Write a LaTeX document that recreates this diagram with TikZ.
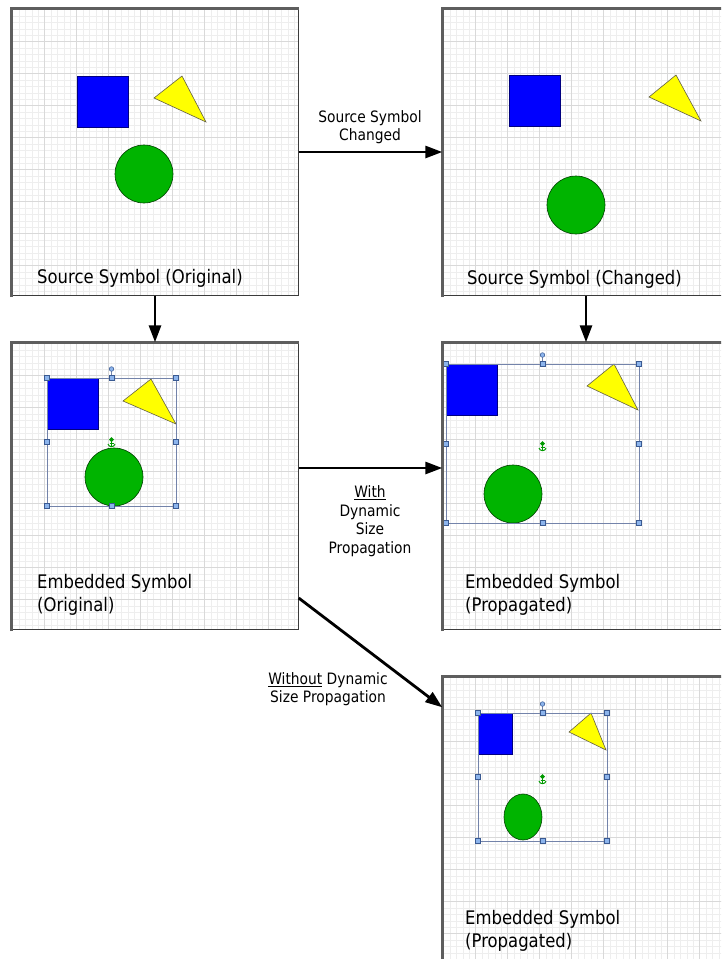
\documentclass[tikz,border=0pt]{standalone}
\usepackage{fontspec}
\setmainfont{DejaVu Sans}[FakeStretch=0.88]
\usetikzlibrary{arrows.meta,calc}
\definecolor{gminorc}{HTML}{EEEEEE}
\definecolor{gmajorc}{HTML}{D9D9D9}
\definecolor{frameL}{HTML}{5E5E5E}
\definecolor{frameR}{HTML}{3C3C3C}
\definecolor{shblue}{HTML}{0000FF}
\definecolor{shyellow}{HTML}{FFFF00}
\definecolor{shgreen}{HTML}{00B400}
\definecolor{selc}{HTML}{7383AA}
\definecolor{hndfill}{HTML}{8CB4EC}
\definecolor{hnddraw}{HTML}{3A5A92}
\definecolor{anch}{HTML}{009A00}
\tikzset{
  panel/.style={rectangle, draw=none, minimum width=287pt, minimum height=287pt, inner sep=0pt},
  gminor/.style={draw=gminorc, line width=1pt},
  gmajor/.style={draw=gmajorc, line width=0.8pt},
  frthick/.style={draw=frameL, line width=3pt},
  frthin/.style={draw=frameR, line width=1.5pt},
  arr/.style={line width=2.8pt, -{Triangle[length=17pt,width=12pt]}},
  sqstyle/.style={fill=shblue, draw=blue!50!black, line width=0.5pt},
  tristyle/.style={fill=shyellow, draw=black!70!yellow, line width=0.6pt},
  circstyle/.style={fill=shgreen, draw=green!25!black, line width=0.6pt},
  selbox/.style={draw=selc, line width=0.8pt},
  hnd/.style={fill=hndfill, draw=hnddraw, line width=0.5pt},
  plabel/.style={anchor=base west, inner sep=0pt, align=left, font=\fontsize{18.7}{23.5}\selectfont},
  elabel/.style={inner sep=0pt, align=center, font=\fontsize{15.7}{18.5}\selectfont},
}
\newcommand\gridin[1]{%
  \begin{scope}
    \clip (#1.north west) rectangle (#1.south east);
    \fill[white] (#1.north west) rectangle (#1.south east);
    \begin{scope}[shift={(#1.north west)}]
      \foreach \k in {0,...,46}{
        \draw[gminor] ({1.5+6.4*\k},0) -- ++(0,300);
        \draw[gminor] (0,{1.5+6.4*\k}) -- ++(300,0);
      }
      \foreach \k in {0,...,9}{
        \draw[gmajor] ({1.5+32*\k},0) -- ++(0,300);
        \draw[gmajor] (0,{1.5+32*\k}) -- ++(300,0);
      }
    \end{scope}
  \end{scope}
}
\newcommand\frameof[1]{%
  \draw[frthin] (#1.north east) -- (#1.south east) -- (#1.south west);
  \draw[frthick] ([yshift=-1.5pt]#1.south west) -- (#1.north west) -- (#1.north east);
}
% selection box: x0 y0 x1 y1
\newcommand\selection[4]{%
  \pgfmathsetmacro\mx{(#1+#3)/2}
  \pgfmathsetmacro\my{(#2+#4)/2}
  \draw[selbox] (#1,#2) rectangle (#3,#4);
  \draw[selc, line width=0.6pt] (\mx,#2) -- (\mx,{#2-9});
  \draw[hnd] (\mx,{#2-9}) circle (2.3pt);
  \foreach \hx/\hy in {#1/#2, \mx/#2, #3/#2, #1/\my, #3/\my, #1/#4, \mx/#4, #3/#4}{
    \draw[hnd] ({\hx-2.5},{\hy-2.5}) rectangle ({\hx+2.5},{\hy+2.5});
  }
}
\newcommand\anchoricon[2]{%
  \draw[anch, line width=1pt] (#1,{#2-3}) -- (#1,{#2+4});
  \draw[anch, line width=1pt] ({#1-3.5},{#2+1}) .. controls ({#1-3},{#2+4.5}) and ({#1+3},{#2+4.5}) .. ({#1+3.5},{#2+1});
  \draw[anch, line width=0.8pt] ({#1-2},{#2}) -- ({#1+2},{#2});
  \fill[anch] (#1,{#2-6}) -- ({#1+2.5},{#2-3.5}) -- (#1,{#2-1}) -- ({#1-2.5},{#2-3.5}) -- cycle;
}
\begin{document}
\begin{tikzpicture}[x=1pt, y=-1pt]
\useasboundingbox (0,0) rectangle (721,959);
\clip (0,0) rectangle (721,959);
\fill[white] (0,0) rectangle (721,959);

% panels
\node[panel] (p1) at (155,152) {};
\node[panel] (p2) at (586,152) {};
\node[panel] (p3) at (155,486) {};
\node[panel] (p4) at (586,486) {};
\node[panel] (p5) at (586,820) {};

\gridin{p1}\gridin{p2}\gridin{p3}\gridin{p4}\gridin{p5}

% panel 1: source original
\draw[sqstyle] (77,76) rectangle (128,127);
\draw[tristyle] (154,98) -- (182,76) -- (206,122) -- cycle;
\draw[circstyle] (144,174) circle (29);

% panel 2: source changed
\draw[sqstyle] (509,75) rectangle (560,126);
\draw[tristyle] (649,97) -- (676,75) -- (701,121) -- cycle;
\draw[circstyle] (576,205) circle (29);

% panel 3: embedded original
\draw[sqstyle] (47,378) rectangle (98,429);
\draw[tristyle] (123,401) -- (151,379) -- (176,424) -- cycle;
\draw[circstyle] (114,477) circle (29);
\selection{47}{378}{176}{506}
\anchoricon{111.5}{443}

% panel 4: embedded propagated (with)
\draw[sqstyle] (446,364) rectangle (497,415);
\draw[tristyle] (587,386) -- (614,364) -- (638,410) -- cycle;
\draw[circstyle] (513,494) circle (29);
\selection{446}{364}{639}{523}
\anchoricon{542.5}{447}

% panel 5: embedded propagated (without)
\draw[sqstyle] (478,713) rectangle (512,754);
\draw[tristyle] (569,732) -- (591,713) -- (606,750) -- cycle;
\draw[circstyle] (523,817) ellipse (19 and 23);
\selection{478}{713}{607}{841}
\anchoricon{542.5}{780}

% panel labels (base anchor = last line)
\node[plabel] (t1) at (37,283) {Source Symbol (Original)};
\node[plabel] (t2) at (467,284) {Source Symbol (Changed)};
\node[plabel] (t3) at (37,611.5) {Embedded Symbol\\(Original)};
\node[plabel] (t4) at (465,611.5) {Embedded Symbol\\(Propagated)};
\node[plabel] (t5) at (465,947.5) {Embedded Symbol\\(Propagated)};

% frames
\frameof{p1}\frameof{p2}\frameof{p3}\frameof{p4}\frameof{p5}

% connectors
\coordinate (a4s) at ([yshift=18pt]p3.east);
\coordinate (a5s) at ([yshift=-112pt]p3.east);
\coordinate (a5e) at ([yshift=-31pt]p5.north west);
\draw[arr] (p1.east) -- (p2.west);
\draw[arr] (p1.south) -- (p3.north);
\draw[arr] (p2.south) -- (p4.north);
\draw[arr] (a4s) -- (p4.west |- a4s);
\draw[arr] (a5s) -- (a5e);

% connector labels
\node[elabel] (l1) at (370,127) {Source Symbol\\Changed};
\node[elabel] (l2) at (370,521) {\underline{With}\\Dynamic\\Size\\Propagation};
\node[elabel] (l3) at (328,689) {\underline{Without} Dynamic\\Size Propagation};
\end{tikzpicture}
\end{document}
